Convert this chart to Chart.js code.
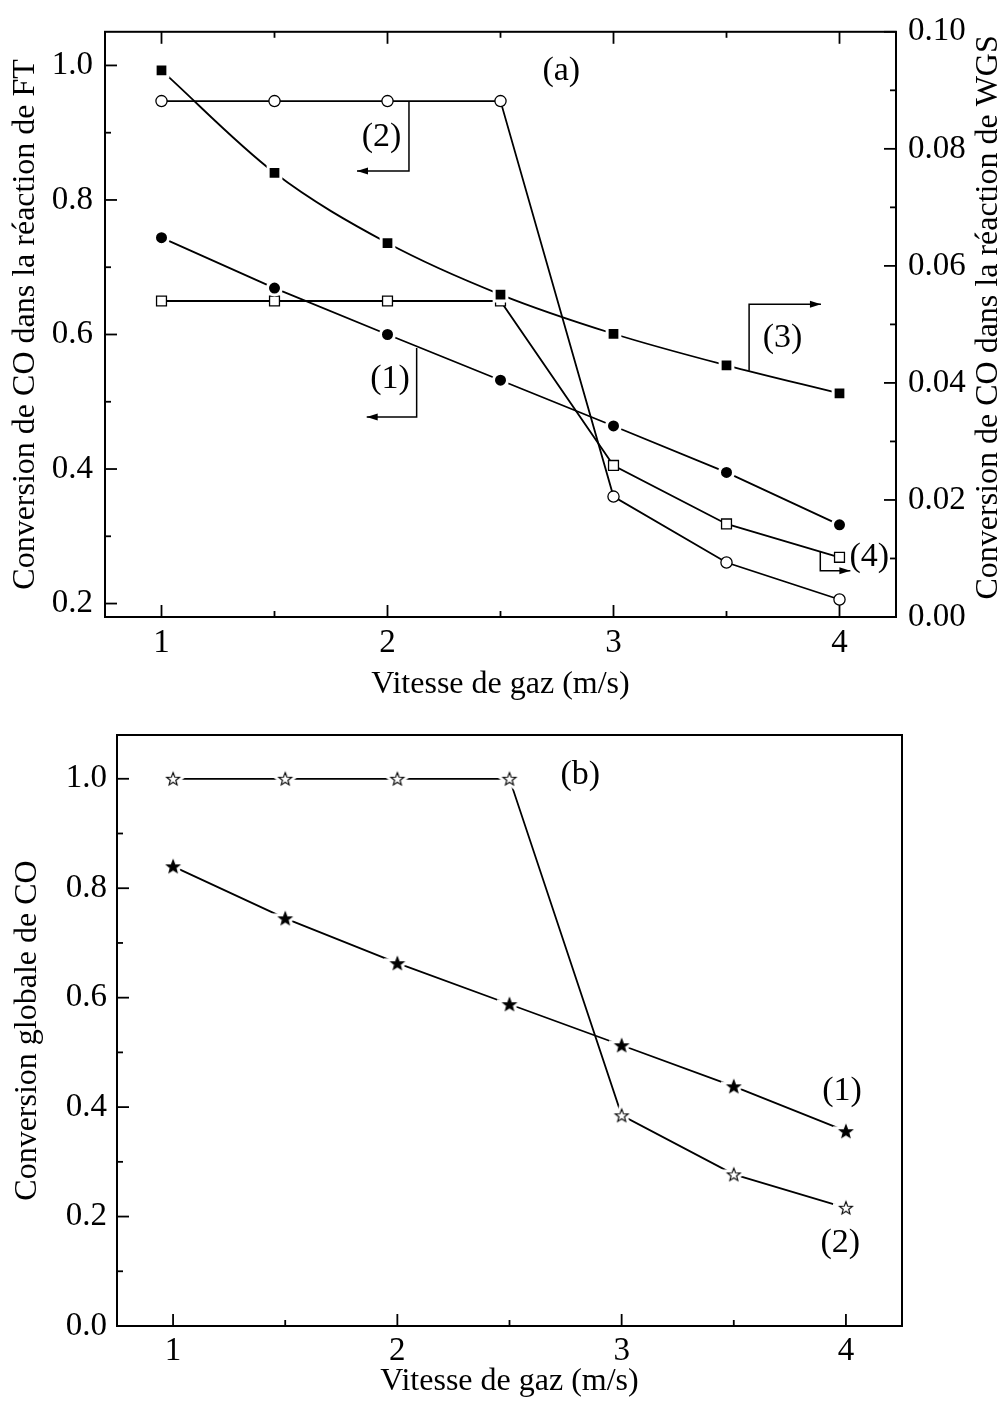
<!DOCTYPE html>
<html lang="fr">
<head>
<meta charset="UTF-8">
<title>Conversion de CO en fonction de la vitesse de gaz</title>
<script src="https://cdn.jsdelivr.net/npm/chart.js@4.4.0/dist/chart.umd.min.js"></script>
<style>
  body { margin: 0; background: #fff; }
  #page { position: relative; width: 1007px; height: 1407px; }
  canvas { position: absolute; left: 0; }
</style>
</head>
<body>
<div id="page">
  <canvas id="figA" width="1007" height="710" style="top:0"></canvas>
  <canvas id="figB" width="1007" height="707" style="top:700px"></canvas>
</div>
<script>
// valeurs
const vitesse = [1, 1.5, 2, 2.5, 3, 3.5, 4];

// (a) axe de gauche : réaction de FT
const ftCourbe1 = [0.744, 0.669, 0.600, 0.532, 0.464, 0.395, 0.317];
const ftCourbe2 = [0.947, 0.947, 0.947, 0.947, 0.359, 0.261, 0.206];
// (a) axe de droite : réaction de WGS
const wgsCourbe3 = [0.0934, 0.0759, 0.0639, 0.0551, 0.0484, 0.0430, 0.0382];
const wgsCourbe4 = [0.0540, 0.0540, 0.0540, 0.0540, 0.0259, 0.0159, 0.0102];
// (b) conversion globale
const globCourbe1 = [0.840, 0.745, 0.663, 0.588, 0.513, 0.438, 0.356];
const globCourbe2 = [1.000, 1.000, 1.000, 1.000, 0.385, 0.277, 0.216];

// graduations
const xTicks = [1, 2, 3, 4];
const xLabels = ['1', '2', '3', '4'];
const ftTicks = [0.2, 0.4, 0.6, 0.8, 1.0];
const ftLabels = ['0.2', '0.4', '0.6', '0.8', '1.0'];
const wgsTicks = [0, 0.02, 0.04, 0.06, 0.08, 0.10];
const wgsLabels = ['0.00', '0.02', '0.04', '0.06', '0.08', '0.10'];
const globTicks = [0, 0.2, 0.4, 0.6, 0.8, 1.0];
const globLabels = ['0.0', '0.2', '0.4', '0.6', '0.8', '1.0'];

const serif = '"Liberation Serif", "Times New Roman", serif';
const tickFont = { family: serif, size: 33 };
const titleFont = { family: serif, size: 32, lineHeight: 1 };

const pts = ys => vitesse.map((x, i) => ({ x, y: ys[i] }));

// étoile à cinq branches (pleine ou vide)
function etoile(plein) {
  const R = 6.8, s = 26;
  const c = document.createElement('canvas');
  c.width = c.height = s;
  const g = c.getContext('2d');
  g.beginPath();
  for (let i = 0; i < 10; i++) {
    const r = i % 2 ? R * 0.42 : R;
    const a = -Math.PI / 2 + i * Math.PI / 5;
    g.lineTo(s / 2 + r * Math.cos(a), s / 2 + 0.6 + r * Math.sin(a));
  }
  g.closePath();
  g.lineJoin = 'miter';
  g.strokeStyle = '#fff'; g.lineWidth = 7; g.stroke();
  g.fillStyle = plein ? '#000' : '#fff'; g.fill();
  g.strokeStyle = '#000'; g.lineWidth = 1.1; g.stroke();
  return c;
}

const ligne = { borderColor: '#000', borderWidth: 1.8, tension: 0, fill: false };
const rondPlein = { pointStyle: 'circle', pointRadius: 7, pointBackgroundColor: '#000', pointBorderColor: '#fff', pointBorderWidth: 3 };
const rondVide = { pointStyle: 'circle', pointRadius: 5.6, pointBackgroundColor: '#fff', pointBorderColor: '#000', pointBorderWidth: 1.3 };
const carrePlein = { pointStyle: 'rect', pointRadius: 9, pointBackgroundColor: '#000', pointBorderColor: '#fff', pointBorderWidth: 3 };
const carreVide = { pointStyle: 'rect', pointRadius: 7, pointBackgroundColor: '#fff', pointBorderColor: '#000', pointBorderWidth: 1.3 };

// cadre, graduations internes, repères et textes
const habillage = {
  id: 'habillage',
  afterDatasetsDraw(chart, args, o) {
    const { ctx, chartArea: a } = chart;
    ctx.save();
    ctx.strokeStyle = '#000';
    ctx.fillStyle = '#000';
    ctx.lineWidth = 2;
    ctx.strokeRect(a.left, a.top, a.right - a.left, a.bottom - a.top);

    ctx.lineWidth = 1.8;
    for (const g of o.graduations) {
      const s = chart.scales[g.axe];
      const mineures = g.valeurs.slice(1).map((v, i) => (v + g.valeurs[i]) / 2);
      const trace = (vals, len) => vals.forEach(v => {
        const p = s.getPixelForValue(v);
        ctx.beginPath();
        if (g.cote === 'bas') { ctx.moveTo(p, a.bottom); ctx.lineTo(p, a.bottom - len); }
        if (g.cote === 'haut') { ctx.moveTo(p, a.top); ctx.lineTo(p, a.top + len); }
        if (g.cote === 'gauche') { ctx.moveTo(a.left, p); ctx.lineTo(a.left + len, p); }
        if (g.cote === 'droite') { ctx.moveTo(a.right, p); ctx.lineTo(a.right - len, p); }
        ctx.stroke();
      });
      trace(g.valeurs, 12);
      trace(mineures, 6);
    }

    ctx.lineWidth = 1.5;
    for (const r of o.reperes || []) {
      const ys = chart.scales[r.axe], xs = chart.scales.x;
      const p = r.pts.map(([x, y]) => [xs.getPixelForValue(x), ys.getPixelForValue(y)]);
      ctx.beginPath();
      p.forEach(([x, y], i) => i ? ctx.lineTo(x, y) : ctx.moveTo(x, y));
      ctx.stroke();
      const [x1, y1] = p[p.length - 2], [x2, y2] = p[p.length - 1];
      const ang = Math.atan2(y2 - y1, x2 - x1);
      ctx.beginPath();
      ctx.moveTo(x2, y2);
      ctx.lineTo(x2 - 11 * Math.cos(ang) + 3.5 * Math.sin(ang), y2 - 11 * Math.sin(ang) - 3.5 * Math.cos(ang));
      ctx.lineTo(x2 - 11 * Math.cos(ang) - 3.5 * Math.sin(ang), y2 - 11 * Math.sin(ang) + 3.5 * Math.cos(ang));
      ctx.closePath();
      ctx.fill();
    }

    ctx.font = '34px ' + serif;
    ctx.textAlign = 'center';
    ctx.textBaseline = 'middle';
    for (const t of o.textes || []) {
      ctx.fillText(t.texte, chart.scales.x.getPixelForValue(t.x), chart.scales[t.axe].getPixelForValue(t.y));
    }

    if (o.titreDroit) {
      ctx.font = '32px ' + serif;
      ctx.translate(chart.width - 18, (a.top + a.bottom) / 2 - 7);
      ctx.rotate(-Math.PI / 2);
      ctx.fillText(o.titreDroit, 0, 0);
    }
    ctx.restore();
  }
};

function axeX(hauteur, pad, padTitre) {
  return {
    type: 'linear', min: 0.75, max: 4.25,
    afterBuildTicks: s => { s.ticks = xTicks.map(v => ({ value: v })); },
    afterFit: s => { s.height = hauteur; },
    grid: { display: false, drawTicks: false },
    border: { display: false },
    ticks: { color: '#000', font: tickFont, padding: pad, maxRotation: 0, callback: (v, i) => xLabels[i] },
    title: { display: true, text: 'Vitesse de gaz (m/s)', color: '#000', font: titleFont, padding: { top: 0, bottom: padTitre } }
  };
}

function axeY(position, min, max, valeurs, labels, largeur, pad, titre, padTitre) {
  return {
    type: 'linear', position, min, max,
    afterBuildTicks: s => { s.ticks = valeurs.map(v => ({ value: v })); },
    afterFit: s => { s.width = largeur; },
    grid: { display: false, drawTicks: false },
    border: { display: false },
    ticks: { color: '#000', font: tickFont, padding: pad, callback: (v, i) => labels[i] },
    title: { display: !!titre, text: titre, color: '#000', font: titleFont, padding: { top: padTitre, bottom: 0 } }
  };
}

const commun = {
  responsive: false,
  animation: false,
  events: [],
  plugins: { legend: { display: false }, tooltip: { enabled: false } }
};

new Chart(document.getElementById('figA'), {
  type: 'line',
  data: {
    datasets: [
      { data: pts(ftCourbe1), yAxisID: 'yFT', ...ligne, ...rondPlein },
      { data: pts(ftCourbe2), yAxisID: 'yFT', ...ligne, ...rondVide },
      { data: pts(wgsCourbe3), yAxisID: 'yWGS', ...ligne, cubicInterpolationMode: 'monotone', ...carrePlein },
      { data: pts(wgsCourbe4), yAxisID: 'yWGS', ...ligne, ...carreVide }
    ]
  },
  options: {
    ...commun,
    layout: { padding: { top: 29, left: 0, right: 0, bottom: 0 } },
    scales: {
      x: axeX(93, 7, 9),
      yFT: axeY('left', 0.18, 1.05, ftTicks, ftLabels, 105, 12, 'Conversion de CO dans la réaction de FT', 10),
      yWGS: axeY('right', 0, 0.10, wgsTicks, wgsLabels, 111, 12, '', 0)
    },
    plugins: {
      ...commun.plugins,
      habillage: {
        graduations: [
          { axe: 'x', cote: 'bas', valeurs: xTicks },
          { axe: 'x', cote: 'haut', valeurs: xTicks },
          { axe: 'yFT', cote: 'gauche', valeurs: ftTicks },
          { axe: 'yWGS', cote: 'droite', valeurs: wgsTicks }
        ],
        reperes: [
          { axe: 'yFT', pts: [[2.095, 0.947], [2.095, 0.843], [1.865, 0.843]] },
          { axe: 'yFT', pts: [[2.129, 0.580], [2.129, 0.4775], [1.908, 0.4775]] },
          { axe: 'yWGS', pts: [[3.600, 0.0421], [3.600, 0.05345], [3.918, 0.05345]] },
          { axe: 'yWGS', pts: [[3.915, 0.0111], [3.915, 0.0079], [4.048, 0.0079]] }
        ],
        textes: [
          { texte: '(a)', x: 2.769, y: 0.992, axe: 'yFT' },
          { texte: '(2)', x: 1.974, y: 0.893, axe: 'yFT' },
          { texte: '(1)', x: 2.011, y: 0.533, axe: 'yFT' },
          { texte: '(3)', x: 3.748, y: 0.0477, axe: 'yWGS' },
          { texte: '(4)', x: 4.132, y: 0.0103, axe: 'yWGS' }
        ],
        titreDroit: 'Conversion de CO dans la réaction de WGS'
      }
    }
  },
  plugins: [habillage]
});

new Chart(document.getElementById('figB'), {
  type: 'line',
  data: {
    datasets: [
      { data: pts(globCourbe1), yAxisID: 'yG', ...ligne, pointStyle: etoile(true) },
      { data: pts(globCourbe2), yAxisID: 'yG', ...ligne, pointStyle: etoile(false) }
    ]
  },
  options: {
    ...commun,
    layout: { padding: { top: 35, left: 0, right: 105, bottom: 0 } },
    scales: {
      x: axeX(81, 6, 9),
      yG: axeY('left', 0, 1.08, globTicks, globLabels, 117, 10, 'Conversion globale de CO', 12)
    },
    plugins: {
      ...commun.plugins,
      habillage: {
        graduations: [
          { axe: 'x', cote: 'bas', valeurs: xTicks },
          { axe: 'yG', cote: 'gauche', valeurs: globTicks }
        ],
        textes: [
          { texte: '(b)', x: 2.816, y: 1.007, axe: 'yG' },
          { texte: '(1)', x: 3.983, y: 0.430, axe: 'yG' },
          { texte: '(2)', x: 3.975, y: 0.152, axe: 'yG' }
        ]
      }
    }
  },
  plugins: [habillage]
});
</script>
</body>
</html>
